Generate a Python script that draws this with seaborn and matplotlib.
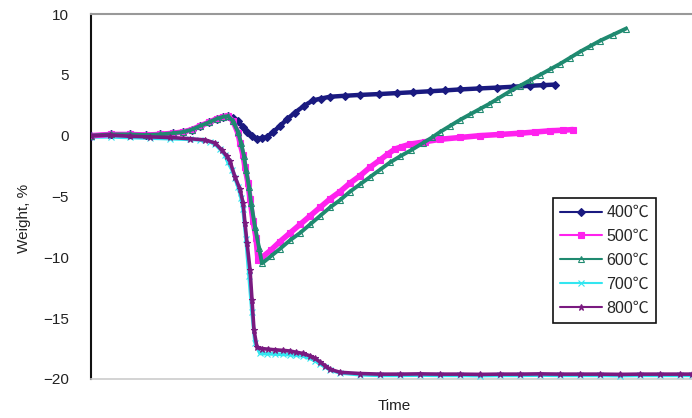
import numpy as np
import pandas as pd
import seaborn as sns
import matplotlib
matplotlib.use('Agg')
import matplotlib.pyplot as plt


series_names = ['400℃', '500℃', '600℃', '700℃', '800℃']

t_400 = [0, 20, 39, 55, 69, 82, 92, 101, 109, 118, 126, 132, 137, 142, 147, 152, 156, 161, 166, 171, 176,
         182, 189, 196, 204, 213, 222, 230, 239, 254, 269, 288, 306, 322, 339, 354, 369, 388, 406,
         422, 439, 452, 464]
w_400 = [0.0, 0.1, 0.1, 0.05, 0.1, 0.2, 0.3, 0.5, 0.8, 1.1, 1.4, 1.55, 1.6, 1.45, 1.2, 0.7, 0.3, -0.05, -0.25,
         -0.2, -0.1, 0.3, 0.8, 1.35, 1.9, 2.45, 2.9, 3.05, 3.2, 3.28, 3.35, 3.42, 3.5, 3.57, 3.65, 3.72,
         3.8, 3.88, 3.95, 4.02, 4.1, 4.15, 4.2]

t_500 = [0, 20, 39, 55, 69, 82, 92, 101, 109, 118, 126, 132, 137, 142, 147, 149, 152, 154, 157, 159, 162,
         165, 167, 171, 180, 189, 199, 209, 219, 229, 239, 249, 259, 269, 279, 289, 297, 304, 311, 319,
         334, 349, 369, 389, 409, 429, 444, 459, 472, 482]
w_500 = [0.0, 0.1, 0.1, 0.05, 0.1, 0.2, 0.3, 0.5, 0.8, 1.1, 1.4, 1.55, 1.6, 1.2, 0.2, -0.6, -1.6, -2.6, -3.9,
         -5.2, -7.0, -8.4, -10.2, -10.0, -9.4, -8.7, -8.0, -7.3, -6.6, -5.9, -5.2, -4.6, -3.9, -3.3,
         -2.6, -2.0, -1.5, -1.1, -0.9, -0.7, -0.5, -0.3, -0.15, 0.0, 0.1, 0.2, 0.3, 0.4, 0.45, 0.5]

t_600 = [0, 20, 39, 55, 69, 82, 92, 101, 109, 118, 126, 132, 137, 142, 147, 150, 153, 155, 158, 160, 164,
         168, 171, 180, 189, 199, 209, 219, 229, 239, 249, 259, 269, 279, 289, 299, 309, 320, 332,
         341, 349, 359, 369, 379, 389, 398, 406, 418, 429, 439, 449, 459, 469, 479, 489, 499, 509,
         522, 535]
w_600 = [0.0, 0.1, 0.1, 0.05, 0.1, 0.2, 0.3, 0.5, 0.8, 1.1, 1.4, 1.55, 1.6, 1.2, 0.3, -0.6, -1.7, -2.8,
         -4.2, -5.5, -7.5, -9.2, -10.5, -9.9, -9.3, -8.6, -8.0, -7.3, -6.6, -5.9, -5.3, -4.6, -4.0,
         -3.4, -2.8, -2.2, -1.7, -1.2, -0.6, -0.15, 0.3, 0.8, 1.3, 1.75, 2.2, 2.6, 3.0, 3.6, 4.1,
         4.55, 5.0, 5.45, 5.9, 6.4, 6.9, 7.35, 7.8, 8.3, 8.8]

t_700 = [0, 20, 39, 59, 79, 99, 109, 119, 124, 129, 134, 137, 141, 144, 147, 150, 152, 155, 158, 161, 164,
         169, 176, 184, 192, 199, 205, 212, 219, 224, 229, 234, 239, 249, 269, 289, 309, 329, 349,
         369, 389, 409, 429, 449, 469, 489, 509, 529, 549, 569, 589, 601]
w_700 = [-0.1, -0.1, -0.15, -0.2, -0.25, -0.3, -0.35, -0.5, -0.7, -1.1, -1.6, -2.2, -2.8, -3.5, -4.2,
         -5.1, -6.0, -8.5, -11.5, -14.5, -17.0, -17.9, -17.92, -17.95, -17.98, -18.0, -18.05, -18.1,
         -18.3, -18.5, -18.75, -19.0, -19.25, -19.5, -19.65, -19.7, -19.7, -19.68, -19.7, -19.7,
         -19.72, -19.7, -19.7, -19.68, -19.7, -19.7, -19.7, -19.72, -19.7, -19.7, -19.7, -19.7]

t_800 = [0, 19, 39, 59, 79, 99, 114, 124, 131, 136, 139, 144, 149, 152, 154, 156, 159, 161, 163, 166, 171,
         177, 184, 192, 199, 205, 212, 219, 224, 229, 234, 239, 249, 269, 289, 309, 329, 349, 369,
         389, 409, 429, 449, 469, 489, 509, 529, 549, 569, 589, 601]
w_800 = [0.0, 0.05, -0.05, -0.1, -0.15, -0.25, -0.35, -0.6, -1.2, -1.7, -2.1, -3.4, -4.4, -5.5, -7.2,
         -8.8, -11.0, -13.5, -16.0, -17.4, -17.5, -17.55, -17.6, -17.65, -17.7, -17.8, -17.9, -18.1,
         -18.3, -18.6, -18.9, -19.2, -19.45, -19.55, -19.6, -19.6, -19.58, -19.6, -19.6, -19.62,
         -19.6, -19.6, -19.58, -19.6, -19.6, -19.6, -19.62, -19.6, -19.6, -19.6, -19.6]

colors = {'400℃': '#1a1a80', '500℃': '#ff22ee', '600℃': '#1f8a70',
          '700℃': '#33e6f0', '800℃': '#7a1a80'}
markers = {'400℃': 'D', '500℃': 's', '600℃': '^', '700℃': 'x', '800℃': '*'}
widths = {'400℃': 3.2, '500℃': 4.0, '600℃': 2.8, '700℃': 2.6, '800℃': 2.6}


def build_frame():
    parts = []
    for name, t, w in zip(series_names, [t_400, t_500, t_600, t_700, t_800],
                          [w_400, w_500, w_600, w_700, w_800]):
        parts.append(pd.DataFrame({'Time': t, 'Weight': w, 'Temp': name}))
    return pd.concat(parts, axis=0, ignore_index=True)


df = build_frame()

sns.set_theme(style='white')
plt.rcParams['font.family'] = ['Liberation Sans', 'Noto Sans CJK KR', 'DejaVu Sans']

fig = plt.figure(figsize=(6.92, 4.18), dpi=100)
ax = fig.add_axes([91 / 692, 1 - 379 / 418, 1 - 91 / 692, (379 - 14) / 418])

# draw 700 first so 800 sits on top like the original
order = ['700℃', '400℃', '500℃', '600℃', '800℃']
for name in order:
    sub = df[df['Temp'] == name]
    sns.lineplot(data=sub, x='Time', y='Weight', ax=ax, color=colors[name], marker=markers[name],
                 markersize=4.5, markeredgewidth=0.8, linewidth=widths[name], sort=False,
                 estimator=None, label=name, zorder=3,
                 markerfacecolor='none' if name == '600℃' else colors[name],
                 markeredgecolor=colors[name])

ax.set_xlim(0, 601)
ax.set_ylim(-20, 10)
ax.set_yticks([-20, -15, -10, -5, 0, 5, 10])
ax.set_xticks([])
ax.tick_params(axis='y', direction='in', length=4, width=1, colors='#222222', labelsize=11, pad=16)
ax.set_xlabel('Time', fontsize=11, color='#222222')
ax.set_ylabel('Weight, %', fontsize=11, color='#222222')
ax.yaxis.set_label_coords(-0.1, 0.44)
ax.xaxis.set_label_coords(0.505, -0.055)

ax.spines['left'].set_color('#111111')
ax.spines['left'].set_linewidth(1.5)
ax.spines['top'].set_color('#999999')
ax.spines['top'].set_linewidth(1.5)
ax.spines['bottom'].set_color('#cccccc')
ax.spines['bottom'].set_linewidth(1.2)
ax.spines['right'].set_visible(False)

handles, labels = ax.get_legend_handles_labels()
idx = [labels.index(n) for n in series_names]
leg = ax.legend([handles[i] for i in idx], [labels[i] for i in idx],
                loc='upper left', bbox_to_anchor=((553 - 91) / 601, (379 - 198) / 365),
                fontsize=11.5, frameon=True, fancybox=False, framealpha=1,
                edgecolor='#111111', labelspacing=0.55, handlelength=2.6,
                handletextpad=0.3, borderpad=0.45, borderaxespad=0)
leg.get_frame().set_linewidth(1.2)
for line in leg.get_lines():
    line.set_linewidth(1.5)

fig.savefig('out.png', dpi=100)
